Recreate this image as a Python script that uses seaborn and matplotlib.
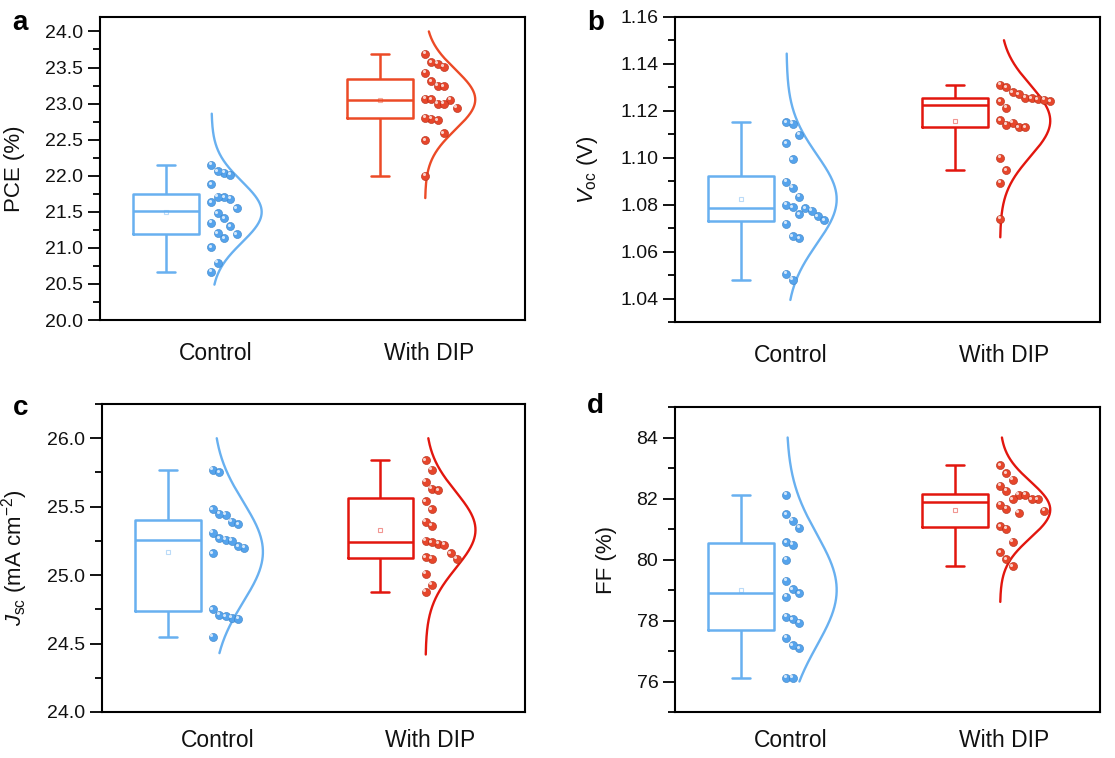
import numpy as np
import pandas as pd
import matplotlib
matplotlib.use("Agg")
import matplotlib.pyplot as plt
import matplotlib.transforms as mtransforms
from matplotlib.ticker import MultipleLocator, FormatStrFormatter
import seaborn as sns

# ---------------- data ----------------
groups = ["Control", "With DIP"]

pce_control = [22.15, 22.04, 22.01, 22.06, 21.88, 21.63, 21.68, 21.70, 21.71, 21.55,
               21.48, 21.41, 21.30, 21.35, 21.19, 21.13, 21.20, 21.01, 20.79, 20.67]
pce_dip = [23.69, 23.51, 23.55, 23.57, 23.43, 23.25, 23.31, 23.24, 23.05, 23.07,
           22.94, 23.00, 23.06, 23.00, 22.77, 22.79, 22.80, 22.59, 22.49, 22.00]

voc_control = [1.1144, 1.1151, 1.1097, 1.1061, 1.0993, 1.0873, 1.0897, 1.0834, 1.0790, 1.0751,
               1.0759, 1.0784, 1.0799, 1.0773, 1.0719, 1.0733, 1.0656, 1.0666, 1.0506, 1.0480]
voc_dip = [1.1311, 1.1301, 1.1241, 1.1256, 1.1270, 1.1280, 1.1253, 1.1250, 1.1240, 1.1247,
           1.1214, 1.1149, 1.1130, 1.1141, 1.1130, 1.1159, 1.1001, 1.0946, 1.0893, 1.0741]

jsc_control = [25.77, 25.75, 25.44, 25.45, 25.48, 25.39, 25.37, 25.16, 25.20, 25.21,
               25.26, 25.25, 25.31, 25.27, 24.69, 24.68, 24.70, 24.71, 24.75, 24.55]
jsc_dip = [25.84, 25.77, 25.68, 25.63, 25.62, 25.54, 25.48, 25.36, 25.39, 25.23,
           25.25, 25.22, 25.24, 25.16, 25.12, 25.12, 25.13, 25.01, 24.93, 24.88]

ff_control = [82.12, 81.27, 81.49, 81.04, 80.57, 80.49, 80.00, 79.31, 79.02, 78.78,
              78.89, 78.12, 78.04, 77.93, 77.43, 77.09, 77.19, 76.13, 76.13]
ff_dip = [83.09, 82.83, 82.61, 82.42, 82.25, 82.12, 81.98, 81.97, 82.12, 81.98,
          81.66, 81.79, 81.60, 81.54, 81.09, 81.01, 80.58, 80.23, 80.01, 79.78]

# value ranges covered by the fitted normal curves
pce_curve_span = [(20.49, 22.86), (21.69, 24.00)]
voc_curve_span = [(1.0394, 1.1444), (1.0661, 1.1501)]
jsc_curve_span = [(24.43, 26.00), (24.42, 26.00)]
ff_curve_span = [(76.00, 84.00), (78.61, 84.00)]

# ---------------- style ----------------
sns.set_theme(style="ticks")
plt.rcParams["font.family"] = ["Liberation Sans", "DejaVu Sans"]
plt.rcParams["mathtext.fontset"] = "custom"
plt.rcParams["mathtext.rm"] = "Liberation Sans"
plt.rcParams["mathtext.it"] = "Liberation Sans:italic"
plt.rcParams["mathtext.bf"] = "Liberation Sans:bold"

BLUE_LINE = "#68B0F0"
BLUE_DOT = "#55A3EC"
BLUE_EDGE = "#3B84C8"
ORANGE_RED = "#EC4A26"
RED_LINE = "#E2160E"
RED_DOT = "#E6462B"
RED_EDGE = "#B32A14"

fig = plt.figure(figsize=(11.15, 7.58), dpi=100)
W, H = 1115, 758


def add_axes(left, top, right, bottom):
    return fig.add_axes([left / W, 1 - bottom / H, (right - left) / W, (bottom - top) / H])


XLIM = (-0.31, 1.68)
SIDE = 0.212        # offset of the scatter / curve column from the box
PEAK = 0.235        # horizontal extent of the distribution curves


def one_sided_swarm(ax, values, base, step_px=6.3, gap_px=16.0):
    """Place points in columns to the right of `base`; a column only
    accepts a point if it keeps `gap_px` vertical clearance there."""
    bbox = ax.get_window_extent()
    x0, x1 = ax.get_xlim()
    y0, y1 = ax.get_ylim()
    sx = bbox.width / (x1 - x0)
    sy = bbox.height / (y1 - y0)
    values = np.asarray(values, float)
    order = np.argsort(-values, kind="stable")
    columns = []
    xs = np.zeros(len(values))
    for i in order:
        yp = values[i] * sy
        k = 0
        while k < len(columns) and any(abs(yp - q) < gap_px for q in columns[k]):
            k += 1
        if k == len(columns):
            columns.append([])
        columns[k].append(yp)
        xs[i] = base + k * step_px / sx
    return xs


def draw_panel(ax, control, dip, ylim, major, fmt, spans, dip_line, ylabel, label_x):
    ax.set_xlim(*XLIM)
    ax.set_ylim(*ylim)
    df = pd.DataFrame({
        "group": np.repeat(groups, [len(control), len(dip)]),
        "value": np.concatenate([control, dip]),
    })
    palette = {"Control": BLUE_LINE, "With DIP": dip_line}
    sns.boxplot(data=df, x="group", y="value", hue="group", order=groups,
                hue_order=groups, palette=palette, fill=False, width=0.31,
                linewidth=1.8, whis=1.5, showfliers=False, capwidths=0.085,
                legend=False, ax=ax)
    ax.set_xlim(*XLIM)
    ax.set_ylim(*ylim)

    for i, (vals, lc, dc, ec, span) in enumerate([
        (control, BLUE_LINE, BLUE_DOT, BLUE_EDGE, spans[0]),
        (dip, dip_line, RED_DOT, RED_EDGE, spans[1]),
    ]):
        vals = np.asarray(vals, float)
        # mean marker inside the box
        ax.plot([i], [vals.mean()], marker="s", ms=3.5, mfc="none", mec=lc,
                mew=0.8, alpha=0.45, zorder=4)
        # normal distribution curve
        mu, sd = vals.mean(), vals.std(ddof=1)
        yy = np.linspace(span[0], span[1], 400)
        dens = np.exp(-0.5 * ((yy - mu) / sd) ** 2)
        ax.plot(i + SIDE + PEAK * dens, yy, color=lc, lw=1.7, zorder=3)
        # individual points
        xs = one_sided_swarm(ax, vals, i + SIDE)
        sns.scatterplot(x=xs, y=vals, ax=ax, s=34, color=dc, edgecolor=ec,
                        linewidth=0.4, zorder=5, legend=False)
        hl = mtransforms.offset_copy(ax.transData, fig=fig, x=-1.1, y=1.1, units="points")
        ax.scatter(xs, vals, s=5, color="white", alpha=0.75, linewidths=0,
                   transform=hl, zorder=6)

    ax.set_xticks([SIDE + 0.02, 1 + SIDE + 0.02])
    ax.set_xticklabels(groups)
    ax.set_xlabel("")
    ax.yaxis.set_major_locator(MultipleLocator(major))
    ax.yaxis.set_minor_locator(MultipleLocator(major / 2))
    ax.yaxis.set_major_formatter(FormatStrFormatter(fmt))
    ax.tick_params(axis="y", which="major", direction="out", length=9, width=1.3,
                   labelsize=14, pad=3, color="black", labelcolor="#111111")
    ax.tick_params(axis="y", which="minor", direction="out", length=5, width=1.3,
                   color="black")
    ax.tick_params(axis="x", which="both", length=0, labelsize=16.5, labelcolor="#111111")
    for sp in ax.spines.values():
        sp.set_visible(True)
        sp.set_linewidth(1.5)
        sp.set_color("black")
    ax.set_ylabel(ylabel, fontsize=16, color="#111111")
    ax.yaxis.set_label_coords(label_x, 0.5)


ax_a = add_axes(100, 17, 525, 320)
ax_b = add_axes(675, 17, 1100, 322)
ax_c = add_axes(102, 404, 525, 712)
ax_d = add_axes(675, 407, 1100, 712)

draw_panel(ax_a, pce_control, pce_dip, (20.0, 24.2), 0.5, "%.1f", pce_curve_span,
           ORANGE_RED, "PCE (%)", -0.176)
draw_panel(ax_b, voc_control, voc_dip, (1.03, 1.16), 0.02, "%.2f", voc_curve_span,
           RED_LINE, r"$V_{\mathrm{oc}}$ (V)", -0.176)
draw_panel(ax_c, jsc_control, jsc_dip, (24.0, 26.25), 0.5, "%.1f", jsc_curve_span,
           RED_LINE, r"$J_{\mathrm{sc}}$ (mA cm$^{-2}$)", -0.17)
draw_panel(ax_d, ff_control, ff_dip, (75.0, 85.0), 2, "%.0f", ff_curve_span,
           RED_LINE, "FF (%)", -0.136)

for ax in (ax_a, ax_b):
    ax.tick_params(axis="x", pad=16)
for ax in (ax_c, ax_d):
    ax.tick_params(axis="x", pad=12)

for letter, x, y in [("a", 12, 30), ("b", 587, 30), ("c", 13, 415), ("d", 587, 413)]:
    fig.text(x / W, 1 - y / H, letter, fontsize=20, fontweight="bold",
             va="baseline", ha="left", color="black")

fig.savefig("out.png", dpi=100, facecolor="white")
